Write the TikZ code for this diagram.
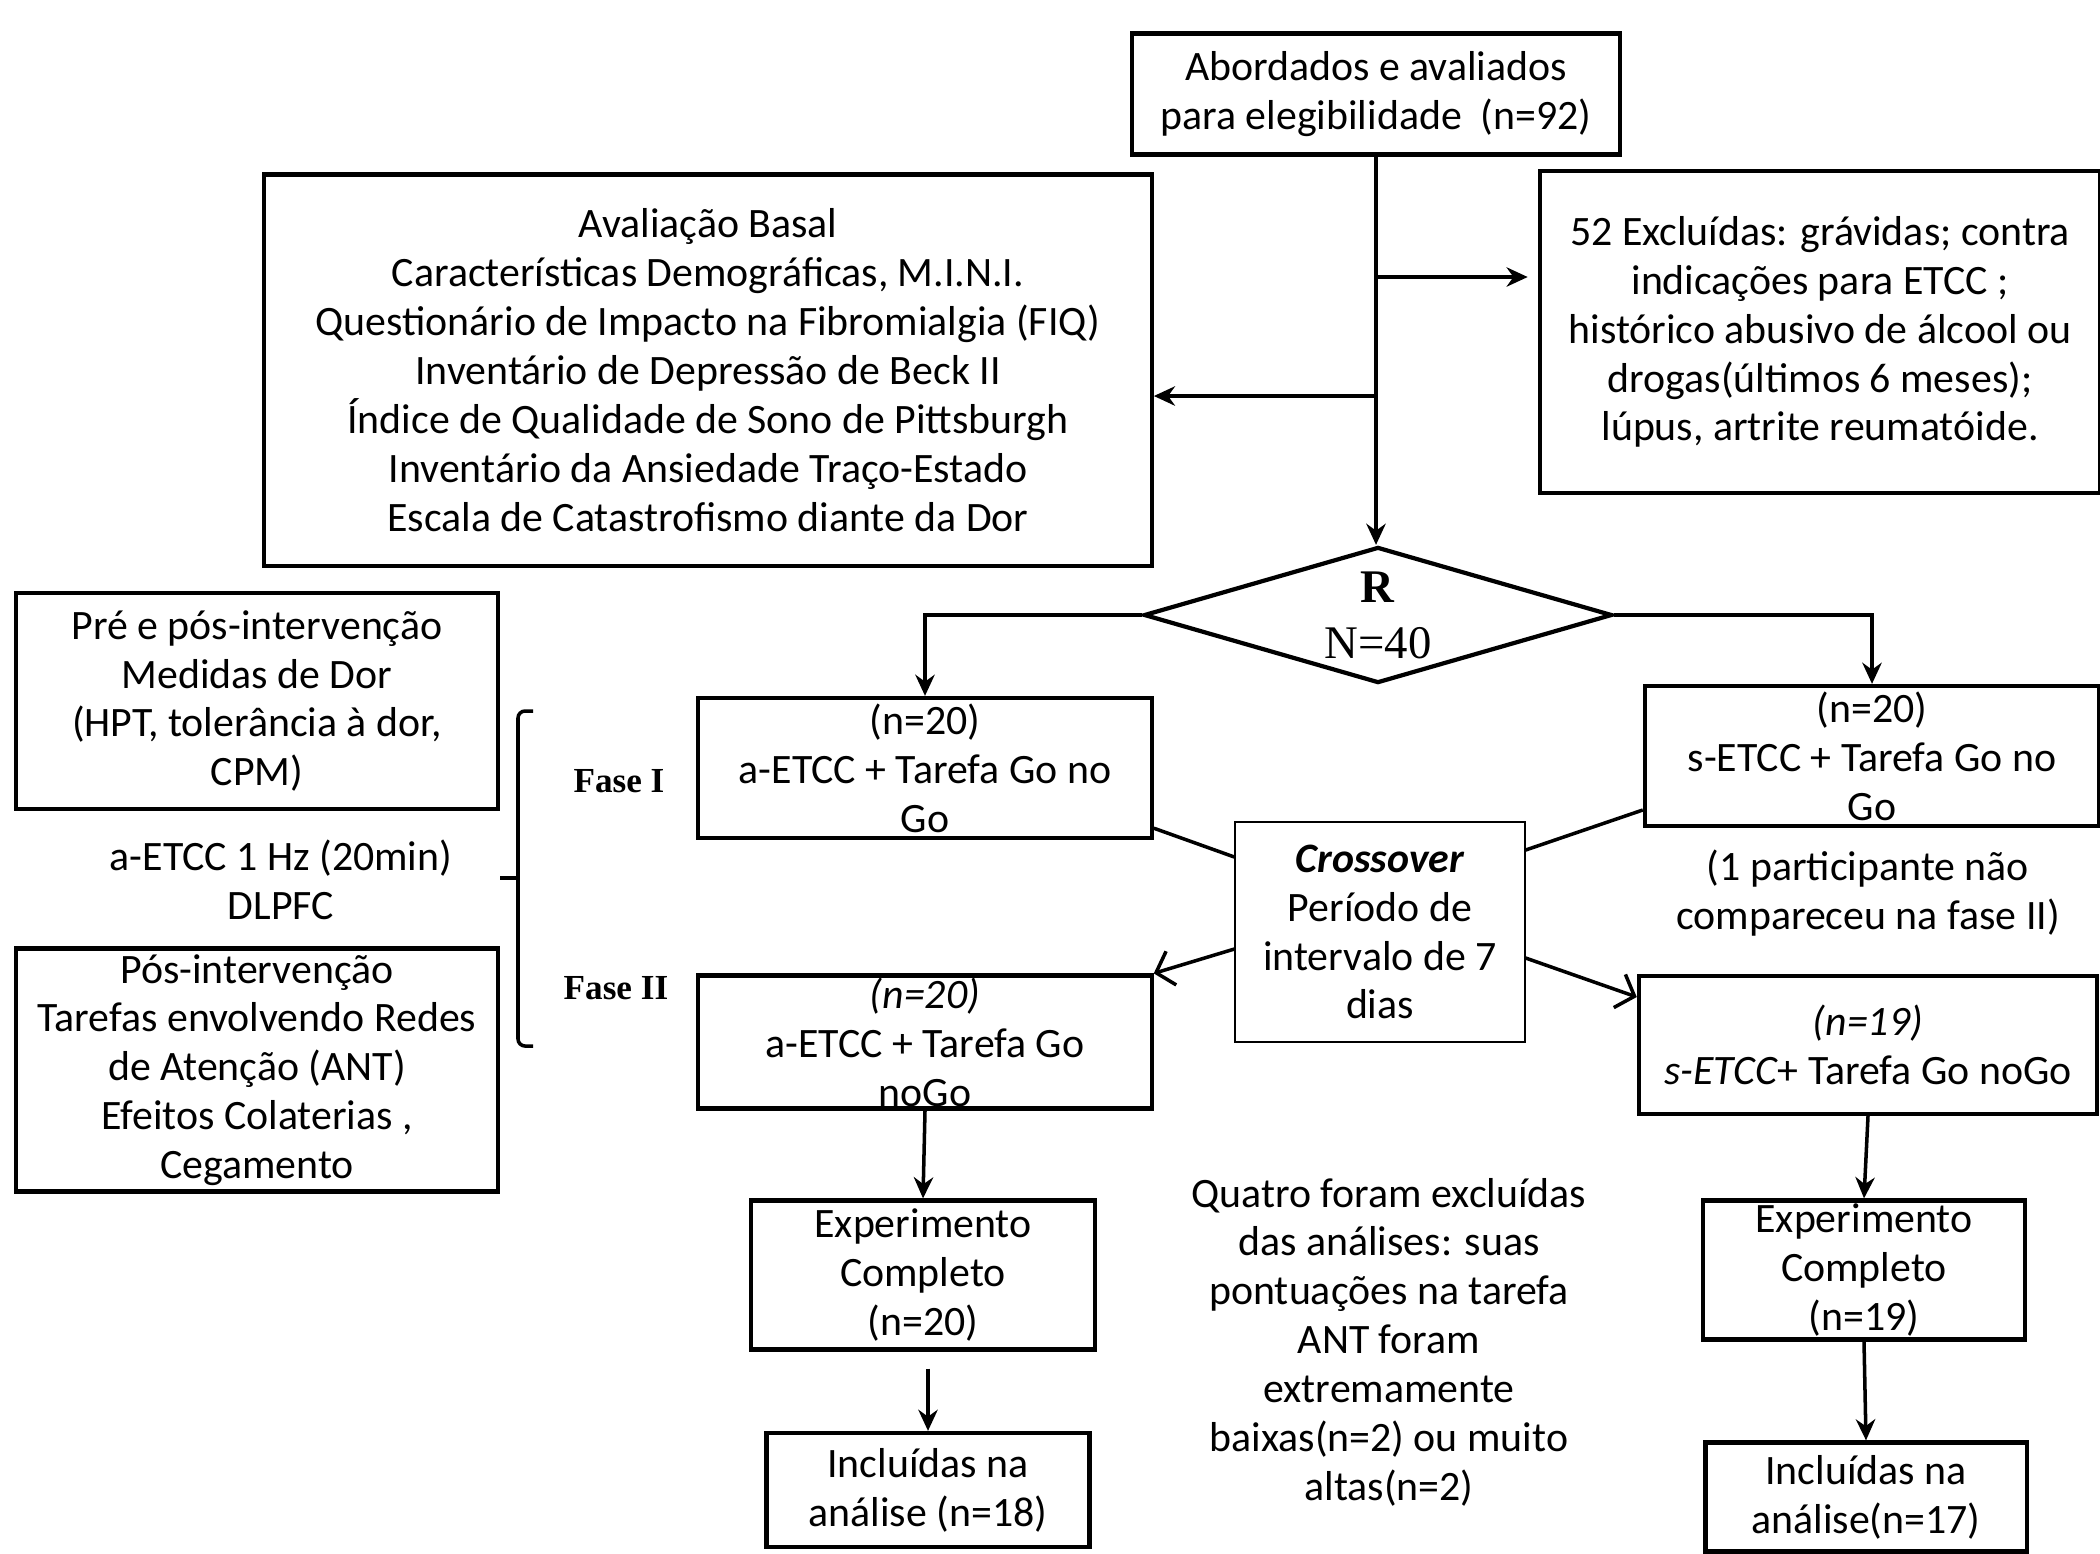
\documentclass[tikz,border=0pt]{standalone}
\usepackage{fontspec}
\setmainfont{Carlito}
\newfontfamily\timesfont{Liberation Serif}
\usetikzlibrary{shapes.geometric, arrows.meta, positioning, calc}
\tikzset{
    process/.style  ={rectangle, draw=black, line width=1.2pt, align=center, inner sep=0pt, font=\fontsize{11.9}{13.9}\selectfont},
    plain/.style    ={align=center, inner sep=0pt, font=\fontsize{11.9}{13.9}\selectfont},
    decision/.style ={diamond, aspect=3.4, draw=black, line width=1.2pt, align=center, inner sep=0pt, minimum width=4.68cm, minimum height=1.36cm, font=\timesfont\fontsize{13.3}{15.9}\selectfont},
    fase/.style     ={inner sep=0pt, font=\timesfont\bfseries\fontsize{10}{12}\selectfont},
    flowarrow/.style={-{Stealth[length=6pt, width=5.5pt]}, line width=1pt},
    openarrow/.style={-{Straight Barb[length=4.5pt, width=10pt]}, line width=1pt},
}
\begin{document}
\begin{tikzpicture}[x=0.01cm, y=-0.01cm]
        \useasboundingbox (0,0) rectangle (2100,1553);
        % screening
        \node[process, minimum width=4.87cm, minimum height=1.21cm] (top) at (1376,94) {Abordados e avaliados\\para elegibilidade~~(n=92)};
        \node[process, minimum width=8.87cm, minimum height=3.91cm] (basal) at (708,370) {Avaliação Basal\\Características Demográficas, M.I.N.I.\\Questionário de Impacto na Fibromialgia (FIQ)\\Inventário de Depressão de Beck II\\Índice de Qualidade de Sono de Pittsburgh\\Inventário da Ansiedade Traço-Estado\\Escala de Catastrofismo diante da Dor};
        \node[process, minimum width=5.59cm, minimum height=3.22cm] (ex) at (1820,332) {52 Excluídas: grávidas; contra\\indicações para ETCC ;\\histórico abusivo de álcool ou\\drogas(últimos 6 meses);\\lúpus, artrite reumatóide.};
        \node[decision] (dia) at (1378,615) {\textbf{R}\\N=40};
        \coordinate (jr) at (1376,277);
        \coordinate (jl) at (1376,396);
        \draw[flowarrow] (top.south) -- (top.south |- dia.north);
        \draw[flowarrow, shorten >=3pt] (jr) -- (jr -| ex.west);
        \draw[flowarrow] (jl) -- (jl -| basal.east);
        % phase I
        \node[process, minimum width=4.53cm, minimum height=1.40cm] (a1) at (925,768) {(n=20)\\a-ETCC + Tarefa Go no\\Go};
        \node[process, minimum width=4.54cm, minimum height=1.40cm] (s1) at (1872,756) {(n=20)\\s-ETCC + Tarefa Go no\\Go};
        \draw[flowarrow] (dia.west) -| (a1.north);
        \draw[flowarrow] (dia.east) -| (s1.north);
        % crossover
        \node[process, line width=0.6pt, minimum width=2.89cm, minimum height=2.20cm] (cross) at (1380,932) {\textbf{\textit{Crossover}}\\Período de\\intervalo de 7\\dias};
        \node[plain] (miss) at (1868,893) {(1 participante não\\compareceu na fase II)};
        % phase II
        \node[process, minimum width=4.53cm, minimum height=1.33cm] (a2) at (925,1042) {\textit{(n=20)}\\a-ETCC + Tarefa Go\\noGo};
        \node[process, minimum width=4.58cm, minimum height=1.38cm] (s2) at (1868,1045) {\textit{(n=19)}\\\textit{s-ETCC}+ Tarefa Go noGo};
        \draw[line width=1pt] ($(a1.south east)+(0,-12)$) -- ($(cross.west)+(0,-75)$);
        \draw[line width=1pt] ($(cross.east)+(0,-82)$) -- ($(s1.west)+(0,54)$);
        \draw[openarrow] ($(cross.west)+(0,17)$) -- (a2.north east);
        \draw[openarrow] ($(cross.east)+(0,26)$) -- ($(s2.west)+(0,-48)$);
        % outcome
        \node[process, minimum width=3.44cm, minimum height=1.49cm] (e1) at (923,1275) {Experimento\\Completo\\(n=20)};
        \node[process, minimum width=3.23cm, minimum height=1.14cm] (i1) at (928,1490) {Incluídas na\\análise (n=18)};
        \node[process, minimum width=3.22cm, minimum height=1.39cm] (e2) at (1864,1270) {Experimento\\Completo\\(n=19)};
        \node[process, minimum width=3.21cm, minimum height=1.09cm] (i2) at (1866,1497) {Incluídas na\\análise(n=17)};
        \node[plain] (quatro) at (1389,1342) {Quatro foram excluídas\\das análises: suas\\pontuações na tarefa\\ANT foram\\extremamente\\baixas(n=2) ou muito\\altas(n=2)};
        \draw[flowarrow] (a2.south) -- (e1.north);
        \draw[flowarrow] ($(e1.south -| i1.north)+(0,17)$) -- (i1.north);
        \draw[flowarrow] (s2.south) -- (e2.north);
        \draw[flowarrow] (e2.south) -- (i2.north);
        % protocol
        \node[process, minimum width=4.82cm, minimum height=2.16cm] (pre) at (257,701) {Pré e pós-intervenção\\Medidas de Dor\\(HPT, tolerância à dor,\\CPM)};
        \node[plain] (stim) at (281,880) {a-ETCC 1 Hz (20min)\\DLPFC};
        \node[process, minimum width=4.82cm, minimum height=2.43cm] (pos) at (257,1070) {Pós-intervenção\\Tarefas envolvendo Redes\\de Atenção (ANT)\\Efeitos Colaterias ,\\Cegamento};
        \node[fase] (f1) at (619,781) {Fase I};
        \node[fase] (f2) at (616,988) {Fase II};
        \draw[line width=1pt, rounded corners=2pt] (533,711) -| (518,1046) -- (533,1046);
        \draw[line width=1pt] (518,878) -- (500,878);
    \end{tikzpicture}
\end{document}
